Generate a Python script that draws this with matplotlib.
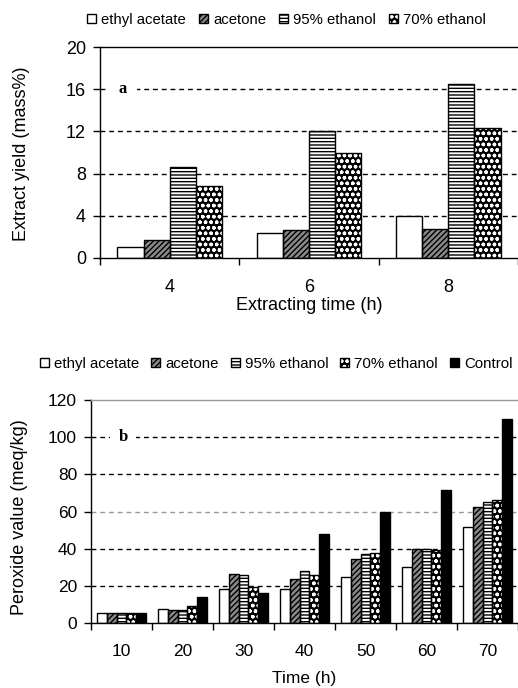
import matplotlib
matplotlib.use('Agg')
import matplotlib.pyplot as plt
import matplotlib.transforms as mtransforms
from matplotlib.legend_handler import HandlerTuple
import numpy as np

plt.rcParams['font.family'] = ['Liberation Sans', 'DejaVu Sans']
plt.rcParams['hatch.linewidth'] = 1.0

# ---------------- data: panel a ----------------
times_a = ['4', '6', '8']
series_a = ['ethyl acetate', 'acetone', '95% ethanol', '70% ethanol']
ethyl_acetate_a = [1.05, 2.35, 4.0]
acetone_a = [1.75, 2.7, 2.75]
ethanol95_a = [8.6, 12.0, 16.5]
ethanol70_a = [6.8, 9.95, 12.35]

# ---------------- data: panel b ----------------
times_b = ['10', '20', '30', '40', '50', '60', '70']
series_b = ['ethyl acetate', 'acetone', '95% ethanol', '70% ethanol', 'Control']
ethyl_acetate_b = [5.4, 7.3, 18.1, 18.1, 24.6, 30.1, 51.6]
acetone_b = [5.4, 6.8, 26.3, 23.6, 34.4, 39.9, 62.2]
ethanol95_b = [5.4, 6.8, 25.7, 27.8, 37.1, 40.0, 65.0]
ethanol70_b = [5.4, 9.3, 19.2, 25.6, 37.6, 39.4, 66.1]
control_b = [5.4, 14.1, 16.1, 47.8, 59.6, 71.4, 109.8]

styles = {
    'ethyl acetate': dict(fc='white', hc='black', hatch=None),
    'acetone': dict(fc='#8a8a8a', hc='black', hatch='//////'),
    '95% ethanol': dict(fc='white', hc='black', hatch='-----'),
    '70% ethanol': dict(fc='black', hc='white', hatch='ooo'),
    'Control': dict(fc='black', hc='black', hatch=None),
}

W, H = 518, 688
fig = plt.figure(figsize=(W / 100, H / 100), dpi=100)


def draw_bars(ax, values_list, names, width):
    n = len(names)
    x = np.arange(len(values_list[0]))
    handles = []
    for i, (vals, name) in enumerate(zip(values_list, names)):
        off = (i - (n - 1) / 2) * width
        st = styles[name]
        fill = ax.bar(x + off, vals, width, facecolor=st['fc'], edgecolor=st['hc'],
                      hatch=st['hatch'], linewidth=0, zorder=2)
        outline = ax.bar(x + off, vals, width, fill=False, edgecolor='black',
                         linewidth=1.0, zorder=3)
        handles.append((fill.patches[0], outline.patches[0]))
    return handles


def style_axis(ax, labels, ymax, ystep, tick_fs, grid_colors, top_color):
    n = len(labels)
    ax.set_xlim(-0.5, n - 0.5)
    ax.set_ylim(0, ymax)
    ax.set_xticks(np.arange(n))
    ax.set_xticklabels(labels, fontsize=tick_fs)
    ax.set_xticks(np.arange(n + 1) - 0.5, minor=True)
    ax.tick_params(axis='x', which='major', length=0, pad=15)
    ax.tick_params(axis='x', which='minor', length=5, width=1, direction='out')
    yt = np.arange(0, ymax + ystep / 2, ystep)
    ax.set_yticks(yt)
    ax.set_yticklabels([f'{int(v)}' for v in yt], fontsize=tick_fs)
    ax.tick_params(axis='y', length=5, width=1, direction='out', pad=5)
    ax.spines['right'].set_visible(False)
    ax.spines['top'].set_color(top_color)
    for s in ['left', 'bottom', 'top']:
        ax.spines[s].set_linewidth(1.0)
    for v, c in zip(yt[1:-1], grid_colors):
        ax.axhline(v, color=c, linestyle=(0, (3.5, 2.8)), linewidth=1.0, zorder=1)


legend_kw = dict(handler_map={tuple: HandlerTuple(ndivide=1, pad=0)},
                 loc='center left', frameon=False, handlelength=0.6, handleheight=0.6,
                 handletextpad=0.35, borderpad=0, borderaxespad=0)

# ---------------- panel a ----------------
ax1 = fig.add_axes([100 / W, 1 - 258 / H, 418 / W, (258 - 47) / H])
h1 = draw_bars(ax1, [ethyl_acetate_a, acetone_a, ethanol95_a, ethanol70_a], series_a, 0.1875)
style_axis(ax1, times_a, 20, 4, 13, ['black'] * 4, 'black')
ax1.set_xlabel('Extracting time (h)', fontsize=13, va='center')
ax1.xaxis.set_label_coords(309 / W, 1 - 306 / H, transform=fig.transFigure)
ax1.set_ylabel('Extract yield (mass%)', fontsize=13, va='center', ha='center')
ax1.yaxis.set_label_coords(22 / W, 1 - 154 / H, transform=fig.transFigure)
tr1 = mtransforms.blended_transform_factory(ax1.transAxes, ax1.transData)
ax1.text(0.055, 16, 'a', transform=tr1, fontsize=12, fontweight='bold',
         family=['Liberation Serif', 'DejaVu Serif'], ha='center', va='center',
         bbox=dict(boxstyle='square,pad=0.6', facecolor='white', edgecolor='none'), zorder=4)
fig.legend(h1, series_a, bbox_to_anchor=(87 / W, 1 - 20 / H), ncol=4,
           fontsize=10.7, columnspacing=0.88, **legend_kw)

# ---------------- panel b ----------------
ax2 = fig.add_axes([91 / W, 1 - 623 / H, 427 / W, (623 - 400) / H])
h2 = draw_bars(ax2, [ethyl_acetate_b, acetone_b, ethanol95_b, ethanol70_b, control_b],
               series_b, 0.158)
style_axis(ax2, times_b, 120, 20, 12.5,
           ['black', 'black', '#999999', 'black', 'black'], '#999999')
ax2.set_xlabel('Time (h)', fontsize=12.5, va='center')
ax2.xaxis.set_label_coords(304 / W, 1 - 678 / H, transform=fig.transFigure)
ax2.set_ylabel('Peroxide value (meq/kg)', fontsize=13, va='center', ha='center')
ax2.yaxis.set_label_coords(20 / W, 1 - 517 / H, transform=fig.transFigure)
tr2 = mtransforms.blended_transform_factory(ax2.transAxes, ax2.transData)
ax2.text(0.075, 100, 'b', transform=tr2, fontsize=12, fontweight='bold',
         family=['Liberation Serif', 'DejaVu Serif'], ha='center', va='center',
         bbox=dict(boxstyle='square,pad=0.5', facecolor='white', edgecolor='none'), zorder=4)
fig.legend(h2, series_b, bbox_to_anchor=(40 / W, 1 - 364 / H), ncol=5,
           fontsize=10.8, columnspacing=0.78, **legend_kw)

fig.savefig('out.png', dpi=100)
